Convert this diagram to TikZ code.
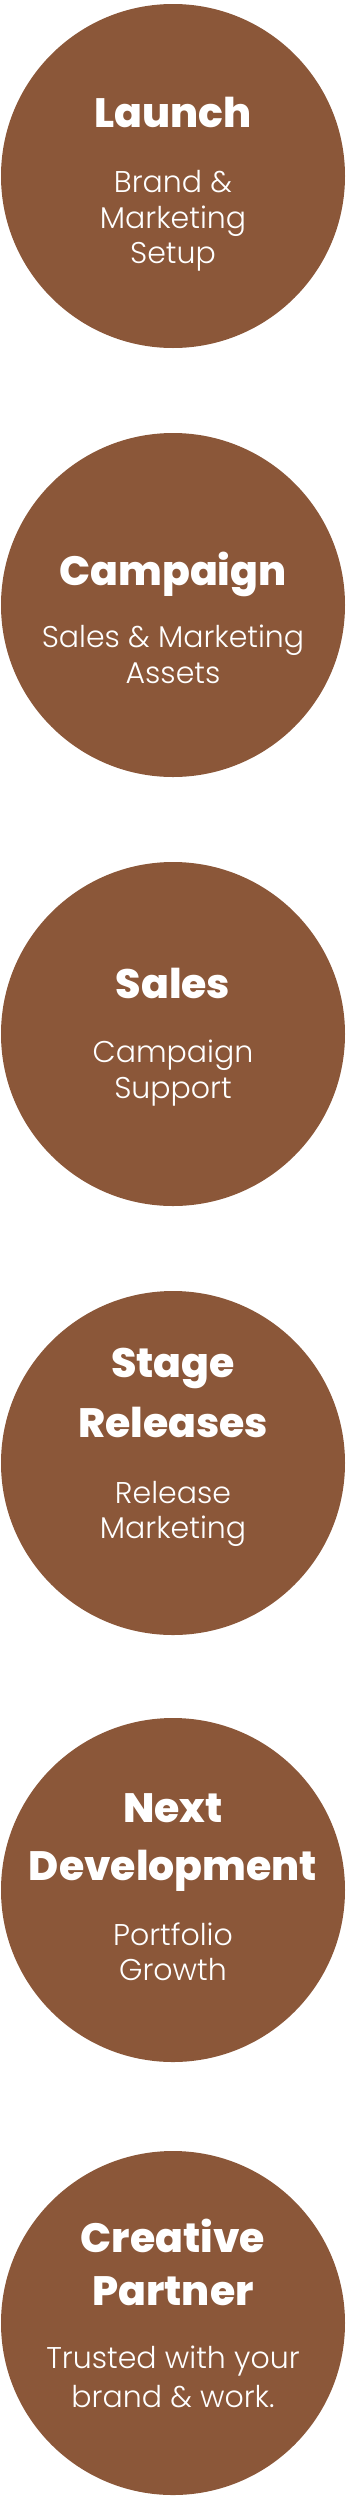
\documentclass[tikz,border=0pt]{standalone}
\usepackage{fontspec}
\setmainfont{Poppins}
\newfontfamily\titlefont{Poppins ExtraBold}
\newfontfamily\subfont{Poppins Light}
\definecolor{brownfill}{HTML}{8B5739}
\begin{document}
\begin{tikzpicture}[x=1pt,y=-1pt,
  disc/.style={circle,fill=brownfill,draw=none,minimum size=344pt,inner sep=0pt},
  ttl/.style={anchor=base,text=white,inner sep=0pt,font=\titlefont\fontsize{41}{50}\selectfont},
  sub/.style={anchor=base,text=white,inner sep=0pt,font=\subfont\fontsize{30}{36}\selectfont}]
\useasboundingbox (0,0) rectangle (346,2500);
% Launch
\node[disc] (c1) at (173,176) {};
\node[ttl] (t1) at (173,127) {Launch};
\node[sub] (s1a) at (173,192) {Brand \&};
\node[sub] (s1b) at (173,228) {Marketing};
\node[sub] (s1c) at (173,263) {Setup};
% Campaign
\node[disc] (c2) at (173,605) {};
\node[ttl] (t2) at (173,585) {Campaign};
\node[sub] (s2a) at (173,647) {Sales \& Marketing};
\node[sub] (s2b) at (173,683) {Assets};
% Sales
\node[disc] (c3) at (173,1034) {};
\node[ttl] (t3) at (173,998) {Sales};
\node[sub] (s3a) at (173,1062) {Campaign};
\node[sub] (s3b) at (173,1098) {Support};
% Stage Releases
\node[disc] (c4) at (173,1463) {};
\node[ttl] (t4a) at (173,1377) {Stage};
\node[ttl] (t4b) at (173,1437) {Releases};
\node[sub] (s4a) at (173,1503) {Release};
\node[sub] (s4b) at (173,1538) {Marketing};
% Next Development
\node[disc] (c5) at (173,1890) {};
\node[ttl] (t5a) at (173,1822) {Next};
\node[ttl] (t5b) at (173,1880) {Development};
\node[sub] (s5a) at (173,1945) {Portfolio};
\node[sub] (s5b) at (173,1980) {Growth};
% Creative Partner
\node[disc] (c6) at (173,2323) {};
\node[ttl] (t6a) at (173,2252) {Creative};
\node[ttl] (t6b) at (173,2305) {Partner};
\node[sub] (s6a) at (173,2368) {Trusted with your};
\node[sub] (s6b) at (173,2407) {brand \& work.};
\end{tikzpicture}
\end{document}
